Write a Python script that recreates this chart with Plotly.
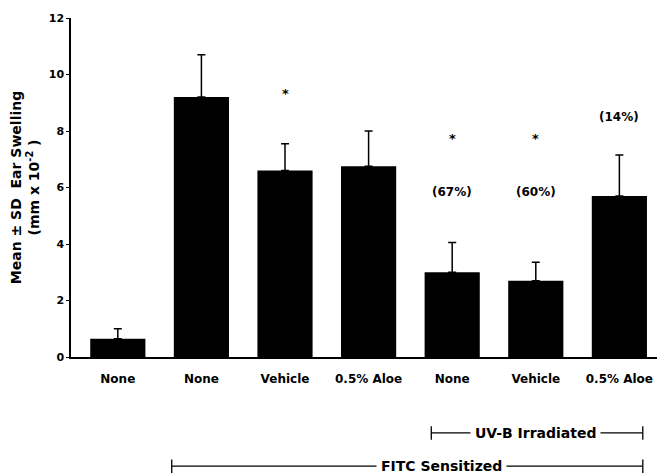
import plotly.graph_objects as go

# Treatment groups along the x axis
groups = ["None", "None", "Vehicle", "0.5% Aloe", "None", "Vehicle", "0.5% Aloe"]
# Mean ear swelling (mm x 10^-2) and standard deviation
means = [0.65, 9.2, 6.6, 6.75, 3.0, 2.7, 5.7]
sds = [0.35, 1.5, 0.95, 1.25, 1.05, 0.65, 1.45]
# Significance marks and percent suppression labels
star_idx = [2, 4, 5]
star_y = [9.33, 7.74, 7.74]
pct_idx = [4, 5, 6]
pct_text = ["(67%)", "(60%)", "(14%)"]
pct_y = [5.83, 5.83, 8.48]
y_ticks = [0, 2, 4, 6, 8, 10, 12]

FONT = "DejaVu Sans"
xs = list(range(len(groups)))

fig = go.Figure()
fig.add_trace(go.Bar(
    x=xs, y=means, width=0.66,
    marker=dict(color="black", line=dict(width=0)),
    error_y=dict(type="data", array=sds, arrayminus=[0] * len(sds),
                 symmetric=False, color="black", thickness=1.5, width=4),
    showlegend=False,
))

ann = []
for i, yv in zip(star_idx, star_y):
    ann.append(dict(x=i, y=yv, text="<b>*</b>", showarrow=False,
                    font=dict(family=FONT, size=13, color="black")))
for i, t, yv in zip(pct_idx, pct_text, pct_y):
    ann.append(dict(x=i, y=yv, text=t, showarrow=False,
                    font=dict(family=FONT, size=12, color="black", weight="bold")))

# Group brackets below the axis
brackets = [
    dict(x0=3.75, x1=6.28, y=-0.224, label="UV-B Irradiated", xt=5.0),
    dict(x0=0.645, x1=6.28, y=-0.322, label="FITC Sensitized", xt=3.87),
]
shapes = []
for b in brackets:
    shapes.append(dict(type="line", xref="x", yref="paper", x0=b["x0"], x1=b["x1"],
                       y0=b["y"], y1=b["y"], line=dict(color="black", width=1.3)))
    for xe in (b["x0"], b["x1"]):
        shapes.append(dict(type="line", xref="x", yref="paper", x0=xe, x1=xe,
                           y0=b["y"] - 0.02, y1=b["y"] + 0.02,
                           line=dict(color="black", width=1.3)))
    ann.append(dict(x=b["xt"], xref="x", y=b["y"], yref="paper", yanchor="middle",
                    text=b["label"], showarrow=False, bgcolor="white", borderpad=4,
                    font=dict(family=FONT, size=14, color="black", weight="bold")))

fig.update_layout(
    width=657, height=476,
    margin=dict(l=71, r=0, t=18, b=119),
    plot_bgcolor="white", paper_bgcolor="white",
    font=dict(family=FONT, color="black"),
    annotations=ann, shapes=shapes,
    xaxis=dict(range=[-0.56, 6.45], tickmode="array", tickvals=xs, ticktext=groups,
               showline=True, linecolor="black", linewidth=1.5, ticks="",
               ticklabelstandoff=10,
               showgrid=False, zeroline=False,
               tickfont=dict(family=FONT, size=12, color="black", weight="bold")),
    yaxis=dict(range=[0, 12], tickmode="array", tickvals=y_ticks,
               showline=True, linecolor="black", linewidth=1.5,
               ticks="outside", ticklen=3, tickcolor="black",
               showgrid=False, zeroline=False,
               tickfont=dict(family=FONT, size=11, color="black", weight="bold"),
               title=dict(text="Mean ± SD  Ear Swelling<br>(mm x 10<sup>-2</sup> )",
                          font=dict(family=FONT, size=14, color="black", weight="bold"),
                          standoff=6)),
)

fig.write_html("out.html")
